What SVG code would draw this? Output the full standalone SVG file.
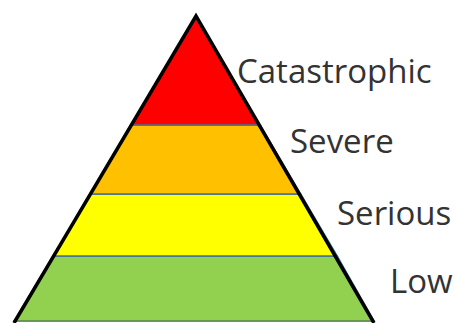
<svg xmlns="http://www.w3.org/2000/svg" width="455" height="323" viewBox="0 0 455 323">
<style>
.band{stroke:#41719C;stroke-width:1.5}
.lbl{font-family:"Open Sans","DejaVu Sans",sans-serif;font-size:33px;fill:#333333}
.edge{fill:none;stroke:#000;stroke-width:3.5;stroke-linejoin:miter}
</style>
<rect width="455" height="323" fill="#ffffff"/>
<g id="low"><polygon class="band" points="53.2,256 337.2,256 374,321 14,321" fill="#92D050" stroke="#41719C"/><line x1="14" y1="321" x2="374" y2="321" stroke="#6E9B3E" stroke-width="1.5"/></g>
<g id="serious"><polygon class="band" points="90.1,194 300.7,194 337.2,256 53.2,256" fill="#FFFF00"/></g>
<g id="severe"><polygon class="band" points="131.2,125 260.1,125 300.7,194 90.1,194" fill="#FFC000"/></g>
<g id="catastrophic"><polygon class="band" points="196,18 260.1,125 131.2,125" fill="#FF0000"/></g>
<g id="connectors"><path class="edge" d="M14,323 L196,16 L374,323"/></g>
<g id="labels">
<text class="lbl" x="237" y="83">Catastrophic</text>
<text class="lbl" x="290" y="153">Severe</text>
<text class="lbl" x="337" y="225">Serious</text>
<text class="lbl" x="390" y="293">Low</text>
</g>
</svg>
